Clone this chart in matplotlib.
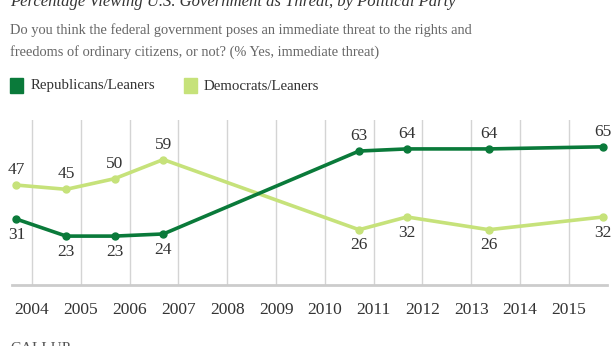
import matplotlib
matplotlib.use("Agg")
import matplotlib.pyplot as plt
import matplotlib.patches as mpatches

plt.rcParams.update({'font.family': 'Liberation Serif'})

# poll dates (fractional years) and % saying "immediate threat"
dates = [2003.68, 2004.70, 2005.69, 2006.69, 2010.70, 2011.68, 2013.36, 2015.70]
rep = [31, 23, 23, 24, 63, 64, 64, 65]
dem = [47, 45, 50, 59, 26, 32, 26, 32]
rep_pos = ['below', 'below', 'below', 'below', 'above', 'above', 'above', 'above']
dem_pos = ['above', 'above', 'above', 'above', 'below', 'below', 'below', 'below']
years = list(range(2004, 2016))

rep_color = '#0a7a3a'
dem_color = '#c6e27a'

W, H = 616, 346
fig = plt.figure(figsize=(W / 100, H / 100), dpi=100)
ax = fig.add_axes([12 / W, 1 - 285 / H, 595 / W, 165 / H])

for y in years:
    ax.axvline(y, color='#d4d4d4', lw=1.0, zorder=0)

ax.plot(dates, dem, color=dem_color, lw=2.6, marker='o', ms=5, zorder=2)
ax.plot(dates, rep, color=rep_color, lw=2.6, marker='o', ms=5, zorder=3)

for vals, pos in [(dem, dem_pos), (rep, rep_pos)]:
    for x, v, p in zip(dates, vals, pos):
        off = 10.8 if p == 'above' else -11.2
        ax.annotate(str(v), (x, v), xytext=(0, off), textcoords='offset points',
                    ha='center', va='center', fontsize=12.5, color='#333333')

ax.set_xlim(2003.59, 2015.78)
ax.set_ylim(0, 77.6)
ax.set_xticks(years)
ax.set_xticklabels([str(y) for y in years], fontsize=12.5, color='#333333')
ax.set_yticks([])
ax.tick_params(axis='x', length=0, pad=12)
for s in ['top', 'left', 'right']:
    ax.spines[s].set_visible(False)
ax.spines['bottom'].set_color('#cccccc')
ax.spines['bottom'].set_linewidth(2)
ax.patch.set_alpha(0)

# title (cut at the top), subtitle, legend, source
fig.text(10 / W, 1 - 6 / H, 'Percentage Viewing U.S. Government as Threat, by Political Party',
         fontsize=12, style='italic', color='#333333', va='baseline')
fig.text(10 / W, 1 - 30 / H,
         'Do you think the federal government poses an immediate threat to the rights and',
         fontsize=10.4, color='#666666', va='center')
fig.text(10 / W, 1 - 52 / H,
         'freedoms of ordinary citizens, or not? (% Yes, immediate threat)',
         fontsize=10.4, color='#666666', va='center')

fig.patches.append(mpatches.Rectangle((10 / W, 1 - 93 / H), 13 / W, 15 / H,
                                      transform=fig.transFigure, color=rep_color))
fig.text(31 / W, 1 - 86 / H, 'Republicans/Leaners', fontsize=10.7, color='#333333', va='center')
fig.patches.append(mpatches.Rectangle((184 / W, 1 - 93 / H), 13 / W, 15 / H,
                                      transform=fig.transFigure, color=dem_color))
fig.text(204 / W, 1 - 86 / H, 'Democrats/Leaners', fontsize=10.7, color='#333333', va='center')

fig.text(10 / W, 1 - 352 / H, 'GALLUP', fontsize=11, color='#555555', va='baseline')

fig.savefig('out.png', dpi=100)
